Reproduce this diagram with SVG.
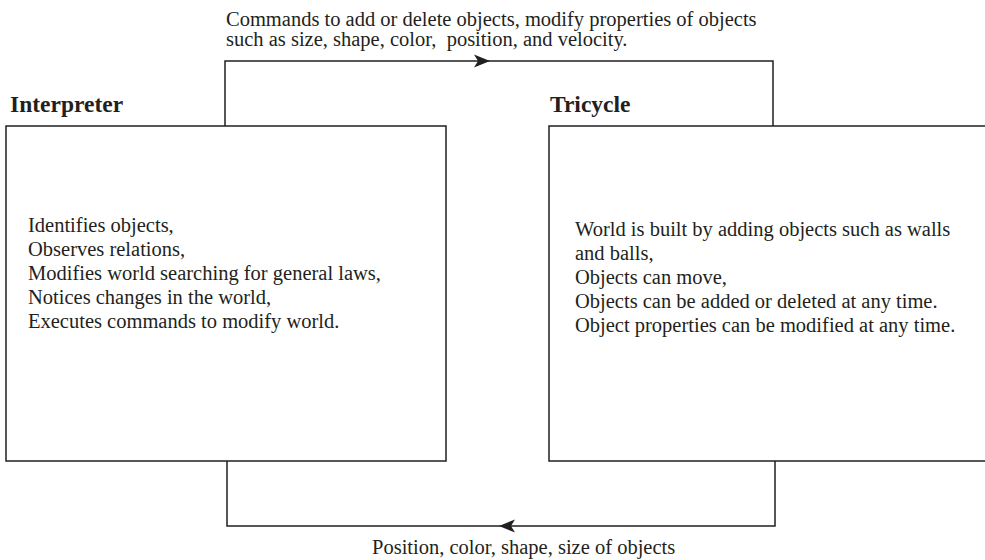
<svg xmlns="http://www.w3.org/2000/svg" width="985" height="560" viewBox="0 0 985 560">
  <style>
    .box { fill: #ffffff; stroke: #231f20; stroke-width: 1.5; }
    .wire { fill: none; stroke: #231f20; stroke-width: 1.5; }
    .head { fill: #231f20; }
    .txt { font-family: "Liberation Serif", "Times New Roman", serif; font-size: 20.5px; fill: #231f20; }
    .title { font-family: "Liberation Serif", "Times New Roman", serif; font-size: 23.5px; font-weight: bold; fill: #231f20; }
  </style>
  <rect width="985" height="560" fill="#ffffff"/>

  <!-- Connectors -->
  <g id="connectors">
    <!-- Interpreter -> Tricycle (commands) -->
    <path class="wire" d="M225,126 V61 H773 V126"/>
    <path class="head" d="M490,61 L474,54.5 L478,61 L474,67.5 Z"/>
    <text class="txt" x="226" y="26">Commands to add or delete objects, modify properties of objects</text>
    <text class="txt" x="226" y="46">such as size, shape, color,&#160; position, and velocity.</text>

    <!-- Tricycle -> Interpreter (feedback) -->
    <path class="wire" d="M227,461 V526 H775 V461"/>
    <path class="head" d="M499,526 L515,519.5 L511,526 L515,532.5 Z"/>
    <text class="txt" x="372" y="554">Position, color, shape, size of objects</text>
  </g>

  <!-- Interpreter node -->
  <g id="interpreter">
    <text class="title" x="10" y="112">Interpreter</text>
    <rect class="box" x="6" y="126" width="440" height="335"/>
    <text class="txt" x="28" y="232">Identifies objects,</text>
    <text class="txt" x="28" y="256">Observes relations,</text>
    <text class="txt" x="28" y="280">Modifies world searching for general laws,</text>
    <text class="txt" x="28" y="304">Notices changes in the world,</text>
    <text class="txt" x="28" y="328">Executes commands to modify world.</text>
  </g>

  <!-- Tricycle node -->
  <g id="tricycle">
    <text class="title" x="550" y="112">Tricycle</text>
    <rect class="box" x="549" y="126" width="440" height="335"/>
    <text class="txt" x="575" y="236">World is built by adding objects such as walls</text>
    <text class="txt" x="575" y="260">and balls,</text>
    <text class="txt" x="575" y="284">Objects can move,</text>
    <text class="txt" x="575" y="308">Objects can be added or deleted at any time.</text>
    <text class="txt" x="575" y="332">Object properties can be modified at any time.</text>
  </g>
</svg>
